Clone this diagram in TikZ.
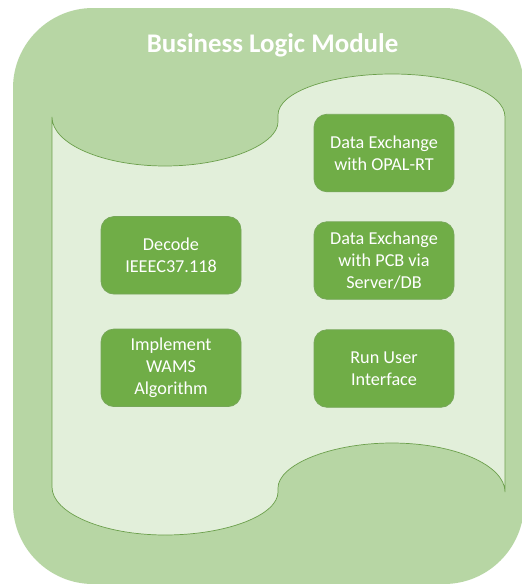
\documentclass[tikz,border=0pt]{standalone}
\usepackage{fontspec}
\setmainfont{Carlito}
\definecolor{outerg}{HTML}{B7D6A4}
\definecolor{innerg}{HTML}{E2EFDA}
\definecolor{boxg}{HTML}{70AD47}
\definecolor{edgeg}{HTML}{6B9F4B}
\tikzset{
  modbox/.style={draw=edgeg!85!outerg,line width=0.8pt,fill=boxg,rounded corners=13pt,
    minimum width=140pt,minimum height=77.5pt,inner sep=0pt,align=center,text=white,
    font=\fontsize{18.2pt}{22.3pt}\selectfont},
  titletext/.style={text=white,font=\bfseries\fontsize{26.9pt}{30pt}\selectfont,inner sep=0pt}
}
\begin{document}
\begin{tikzpicture}[x=1pt,y=-1pt]
\useasboundingbox (0,0) rectangle (522,584);
\fill[white] (0,0) rectangle (522,584);
\begin{scope}
\clip (0,0) rectangle (522,584);
\fill[outerg] (13,88) .. controls (13,44) and (49,8) .. (93,8) -- (444,8)
  .. controls (488,8) and (524,44) .. (524,88) -- (524,504)
  .. controls (524,548) and (488,584) .. (444,584) -- (93,584)
  .. controls (49,584) and (13,548) .. (13,504) -- cycle;
\end{scope}
\draw[edgeg,line width=0.7pt,fill=innerg]
  (52,117) .. controls (52,144) and (103,166) .. (165,166)
  .. controls (227,166) and (278,144) .. (278,122)
  -- (278,115) .. controls (278,92) and (330,74) .. (392,74)
  .. controls (454,74) and (505,92) .. (505,117)
  -- (505,492) .. controls (505,465) and (454,443) .. (392,443)
  .. controls (330,443) and (278,465) .. (278,488)
  -- (278,492) .. controls (278,515) and (227,535) .. (165,535)
  .. controls (103,535) and (52,513) .. (52,487) -- cycle;
\node[titletext] (title) at (272.5,45.5) {Business Logic Module};
\node[modbox] (opal) at (384,153) {Data Exchange\\with OPAL-RT};
\node[modbox] (decode) at (171,255.3) {Decode\\IEEEC37.118};
\node[modbox] (pcb) at (384,260.5) {Data Exchange\\with PCB via\\Server/DB};
\node[modbox] (wams) at (171,367.8) {Implement\\WAMS\\Algorithm};
\node[modbox] (ui) at (384,368.5) {Run User\\Interface};
\end{tikzpicture}
\end{document}
